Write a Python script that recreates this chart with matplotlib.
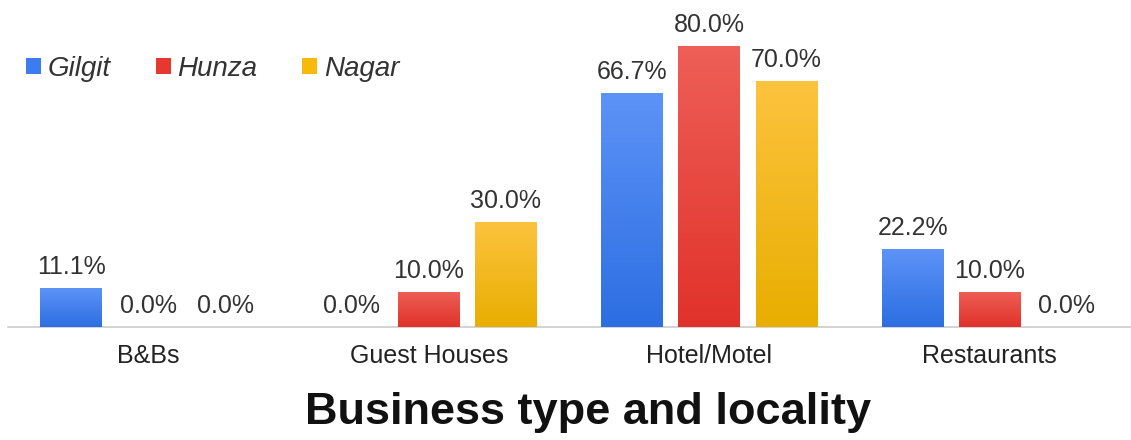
import numpy as np
import matplotlib.pyplot as plt
from matplotlib.patches import Patch
from matplotlib.colors import LinearSegmentedColormap

categories = ["B&Bs", "Guest Houses", "Hotel/Motel", "Restaurants"]
localities = ["Gilgit", "Hunza", "Nagar"]
gilgit = [11.1, 0.0, 66.7, 22.2]
hunza = [0.0, 10.0, 80.0, 10.0]
nagar = [0.0, 30.0, 70.0, 0.0]
values = [gilgit, hunza, nagar]

# (top colour, bottom colour) for each locality
shades = [("#5d93f7", "#2c6ee2"), ("#ee5f57", "#e0322a"), ("#fdc33f", "#e8ae00")]
legend_colors = ["#3d7cf0", "#e5392f", "#f7b90a"]

plt.rcParams['font.family'] = ['Liberation Sans', 'DejaVu Sans']

fig = plt.figure(figsize=(11.31, 4.40), dpi=100)
ax = fig.add_axes([8 / 1131, 113 / 440, 1122 / 1131, 316 / 440])

x = np.arange(len(categories))
width = 0.22
step = 0.275

for i, (name, vals) in enumerate(zip(localities, values)):
    pos = x + (i - 1) * step
    bars = ax.bar(pos, vals, width, color=shades[i][1], edgecolor="none", zorder=2)
    cmap = LinearSegmentedColormap.from_list(name, [shades[i][1], shades[i][0]])
    grad = np.linspace(0, 1, 256).reshape(-1, 1)
    for b in bars:
        if b.get_height() <= 0:
            continue
        x0, y0 = b.get_x(), b.get_y()
        im = ax.imshow(grad, cmap=cmap, aspect="auto", origin="lower",
                       extent=[x0, x0 + b.get_width(), y0, y0 + b.get_height()],
                       zorder=3)
        im.set_clip_path(b)
    for p, v in zip(pos, vals):
        ax.annotate(f"{v:.1f}%", (p, v), xytext=(0, 10), textcoords="offset points",
                    ha="center", va="baseline", fontsize=18, color="#333333")

ax.set_xlim(-0.5, 3.5)
ax.set_ylim(0, 90)
ax.set_xticks(x)
ax.set_xticklabels(categories, fontsize=18, color="#222222")
ax.tick_params(axis="x", length=0, pad=12)
ax.set_yticks([])
for s in ["top", "right", "left"]:
    ax.spines[s].set_visible(False)
ax.spines["bottom"].set_color("#cccccc")
ax.spines["bottom"].set_linewidth(1.2)
ax.set_facecolor("none")

handles = [Patch(facecolor=c, edgecolor="none") for c in legend_colors]
leg = fig.legend(handles, localities, loc="center left", bbox_to_anchor=(26 / 1131, 1 - 69 / 440),
                 ncol=3, frameon=False, borderpad=0, borderaxespad=0,
                 handlelength=0.54, handleheight=0.47,
                 handletextpad=0.25, columnspacing=1.6,
                 prop={"style": "italic", "size": 20})
for t in leg.get_texts():
    t.set_color("#333333")

fig.text(0.520, 0.063, "Business type and locality", ha="center", va="center",
         fontsize=32.5, fontweight="bold", color="#111111")

fig.savefig("out.png", dpi=100)
